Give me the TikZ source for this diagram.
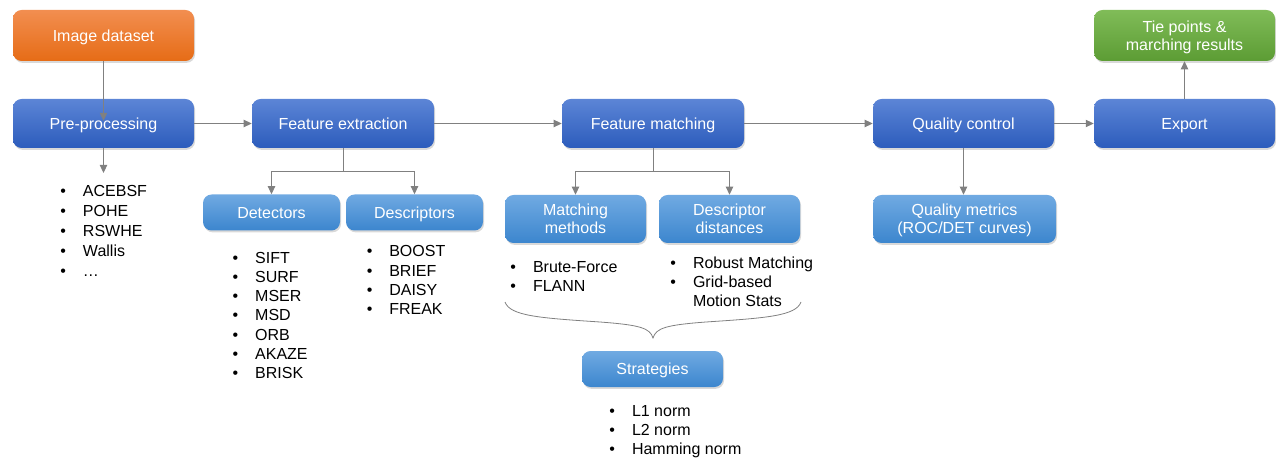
\documentclass[tikz,border=0pt]{standalone}
\usepackage{fontspec}
\setmainfont{Liberation Sans}
\usetikzlibrary{arrows.meta,shadows,calc}
\definecolor{dbT}{RGB}{92,133,214}
\definecolor{dbB}{RGB}{44,92,188}
\definecolor{lbT}{RGB}{112,170,226}
\definecolor{lbB}{RGB}{60,134,206}
\definecolor{orT}{RGB}{242,142,80}
\definecolor{orB}{RGB}{230,108,22}
\definecolor{grT}{RGB}{128,188,88}
\definecolor{grB}{RGB}{92,156,52}
\definecolor{conn}{RGB}{128,128,128}
\newcommand{\mylist}[1]{\begin{tabular}[t]{@{}l@{\hspace{12.7pt}}l@{}}#1\end{tabular}}
\begin{document}
\begin{tikzpicture}[x=0.75pt,y=-0.75pt,
  box/.style={rectangle, rounded corners=6.5pt, text=white, align=center, inner sep=0pt,
    font=\fontsize{12}{13.6}\selectfont,
    drop shadow={shadow xshift=0.8pt,shadow yshift=-1.4pt,opacity=0.3}},
  one/.style={text height=9.6pt, text depth=1pt},
  two/.style={text depth=0pt},
  mainbox/.style={box, one, minimum width=135.75pt, minimum height=36.75pt, top color=dbT, bottom color=dbB},
  orbox/.style={box, one, minimum width=135.75pt, minimum height=38.25pt, top color=orT, bottom color=orB},
  grbox/.style={box, two, minimum width=135.75pt, minimum height=38.25pt, top color=grT, bottom color=grB},
  subbox/.style={box, top color=lbT, bottom color=lbB},
  lst/.style={anchor=base west, inner sep=0pt, text=black, font=\fontsize{12}{#1}\selectfont},
  arr/.style={draw=conn, line width=0.75pt, -{Triangle[length=6pt,width=5.5pt]}},
  ln/.style={draw=conn, line width=0.75pt}
]
\useasboundingbox (0,0) rectangle (1276,459);

% main row
\node[orbox] (img) at (103.5,35.5) {Image dataset};
\node[mainbox] (pre) at (103.5,123.5) {Pre-processing};
\node[mainbox, minimum width=136.5pt] (fe) at (343,123.5) {Feature extraction};
\node[mainbox, minimum width=136.5pt] (fm) at (653,123.5) {Feature matching};
\node[mainbox] (qc) at (963.5,123.5) {Quality control};
\node[mainbox] (ex) at (1184.5,123.5) {Export};
\node[grbox] (tie) at (1184.5,35.5) {Tie points \&\\marching results};

% sub boxes
\node[subbox, one, minimum width=102.75pt, minimum height=27pt] (det) at (271.5,212.5) {Detectors};
\node[subbox, one, minimum width=102.75pt, minimum height=27pt] (desc) at (414.5,212.5) {Descriptors};
\node[subbox, two, minimum width=105.75pt, minimum height=36pt] (mm) at (575.5,219) {Matching\\methods};
\node[subbox, two, minimum width=105.75pt, minimum height=36pt] (dd) at (729.5,219) {Descriptor\\distances};
\node[subbox, one, minimum width=105.75pt, minimum height=27pt] (strat) at (652.5,369) {Strategies};
\node[subbox, two, minimum width=137.25pt, minimum height=36pt] (qm) at (964.5,219) {Quality metrics\\(ROC/DET curves)};

% lists
\node[lst=15pt] (preL) at (60.2,196.7) {\mylist{• & ACEBSF\\ • & POHE\\ • & RSWHE\\ • & Wallis\\ • & …}};
\node[lst=14.4pt] (detL) at (232.4,263.4) {\mylist{• & SIFT\\ • & SURF\\ • & MSER\\ • & MSD\\ • & ORB\\ • & AKAZE\\ • & BRISK}};
\node[lst=14.5pt] (descL) at (366.5,256.7) {\mylist{• & BOOST\\ • & BRIEF\\ • & DAISY\\ • & FREAK}};
\node[lst=14.25pt] (mmL) at (510.2,272.7) {\mylist{• & Brute-Force\\ • & FLANN}};
\node[lst=14.25pt] (ddL) at (670.2,268.7) {\mylist{• & Robust Matching\\ • & Grid-based\\ & Motion Stats}};
\node[lst=14.25pt] (stratL) at (609.2,416.7) {\mylist{• & L1 norm\\ • & L2 norm\\ • & Hamming norm}};

% connectors
\coordinate (preArr) at (103.5,173);
\draw[arr, shorten >=2pt] (img.south) -- (pre.center);
\draw[arr] (pre.east) -- (fe.west);
\draw[arr] (pre.south) -- (preArr);
\draw[arr] (fe.south) -- ++(0,23.5) -| (det.north);
\draw[arr] (fe.south) -- ++(0,23.5) -| (desc.north);
\draw[arr] (fe.east) -- (fm.west);
\draw[arr] (fm.south) -- ++(0,23.5) -| (mm.north);
\draw[arr] (fm.south) -- ++(0,23.5) -| (dd.north);
\draw[arr] (fm.east) -- (qc.west);
\draw[arr] (qc.south) -- (qc.south |- qm.north);
\draw[arr] (qc.east) -- (ex.west);
\draw[arr] (ex.north) -- (tie.south);

% brace
\coordinate (brL) at (505,302);
\coordinate (brT) at (653,338);
\coordinate (brR) at (801,302);
\draw[ln, line width=0.6pt] (brL) .. controls (510,316) and (540,318) .. (600,322)
  .. controls (640,325) and (650,328) .. (brT)
  .. controls (656,328) and (666,325) .. (706,322)
  .. controls (766,318) and (796,316) .. (brR);
\end{tikzpicture}
\end{document}
